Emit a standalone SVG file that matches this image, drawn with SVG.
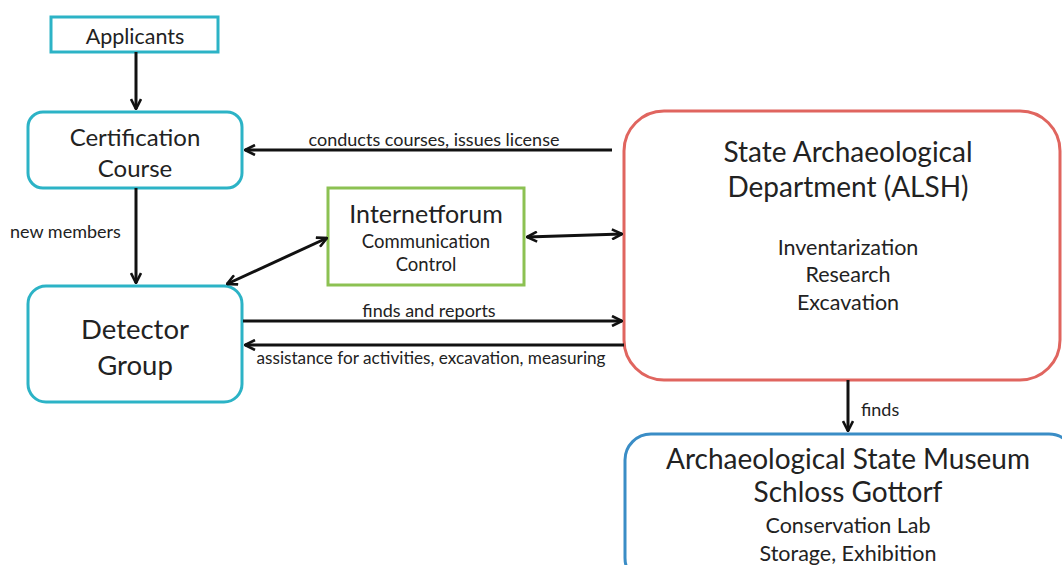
<svg xmlns="http://www.w3.org/2000/svg" width="1062" height="565" viewBox="0 0 1062 565">
<style>
text{font-family:Lato,"Liberation Sans",sans-serif;fill:#222;text-anchor:middle}
.box{fill:#fff;stroke-width:3}
.cy{stroke:#2cb3c6}
.gr{stroke:#8cc152}
.rd{stroke:#e0655f}
.bl{stroke:#3a8dc6}
.ln{stroke:#111;stroke-width:3;fill:none}
.lbl{font-size:18px}
.lbl2{text-anchor:start;font-size:18px}
</style>
<defs>
<marker id="ah" viewBox="0 0 12 12" refX="11" refY="6" markerWidth="12" markerHeight="12" markerUnits="userSpaceOnUse" orient="auto-start-reverse">
<polyline points="1,1 11,6 1,11" fill="none" stroke="#111" stroke-width="2.6"/>
</marker>
</defs>
<rect width="1062" height="565" fill="#fff"/>
<g id="applicants"><rect class="box cy" x="51" y="17" width="167" height="35"/><text x="135" y="44" font-size="21.5">Applicants</text></g>
<g id="certification"><rect class="box cy" x="28" y="112" width="214" height="76" rx="15"/><text x="135" y="146" font-size="24">Certification</text><text x="135" y="177" font-size="24">Course</text></g>
<g id="detector"><rect class="box cy" x="28" y="286" width="214" height="116" rx="18"/><text x="135" y="339" font-size="27.5">Detector</text><text x="135" y="375" font-size="27.5">Group</text></g>
<g id="internetforum"><rect class="box gr" x="328" y="188" width="196" height="97"/><text x="426" y="223" font-size="25">Internetforum</text><text x="426" y="248" font-size="18.5">Communication</text><text x="426" y="271" font-size="18.5">Control</text></g>
<g id="alsh"><rect class="box rd" x="624" y="111" width="436" height="269" rx="40"/><text x="848" y="162" font-size="28">State Archaeological</text><text x="848" y="197" font-size="28">Department (ALSH)</text><text x="848" y="255" font-size="21.5">Inventarization</text><text x="848" y="282" font-size="21.5">Research</text><text x="848" y="310" font-size="21.5">Excavation</text></g>
<g id="museum"><rect class="box bl" x="625" y="434" width="450" height="150" rx="26"/><text x="848" y="469" font-size="28">Archaeological State Museum</text><text x="848" y="502" font-size="28">Schloss Gottorf</text><text x="848" y="533" font-size="21.5">Conservation Lab</text><text x="848" y="561" font-size="21.5">Storage, Exhibition</text></g>
<g id="connectors">
<line class="ln" x1="136" y1="52" x2="136" y2="109" marker-end="url(#ah)"/>
<line class="ln" x1="612" y1="150" x2="245" y2="150" marker-end="url(#ah)"/>
<text class="lbl" x="434" y="146">conducts courses, issues license</text>
<line class="ln" x1="136" y1="188" x2="136" y2="283" marker-end="url(#ah)"/>
<text class="lbl2" x="10" y="238">new members</text>
<line class="ln" x1="227" y1="284" x2="327" y2="238" marker-start="url(#ah)" marker-end="url(#ah)"/>
<line class="ln" x1="527" y1="237" x2="622" y2="234" marker-start="url(#ah)" marker-end="url(#ah)"/>
<line class="ln" x1="243" y1="321" x2="622" y2="321" marker-end="url(#ah)"/>
<text class="lbl" x="429" y="317">finds and reports</text>
<line class="ln" x1="624" y1="345" x2="245" y2="345" marker-end="url(#ah)"/>
<text class="lbl" x="431" y="364" style="font-size:17.2px">assistance for activities, excavation, measuring</text>
<line class="ln" x1="848" y1="380" x2="848" y2="431" marker-end="url(#ah)"/>
<text class="lbl2" x="861" y="416">finds</text>
</g>
</svg>
